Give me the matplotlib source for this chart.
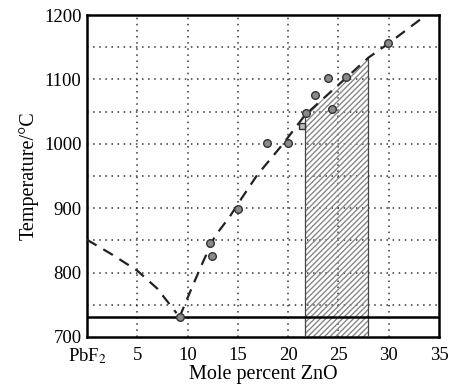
"""PbF2-ZnO phase diagram: liquidus with measured points and hatched region."""

import matplotlib.pyplot as plt
import numpy as np

plt.rcParams["font.family"] = ["Liberation Serif", "DejaVu Serif"]
plt.rcParams["mathtext.fontset"] = "stix"

# liquidus (dashed), PbF2-rich branch
left_x = [0.0, 2.5, 5.0, 7.0, 8.9]
left_t = [851, 828, 803, 775, 737]

# liquidus (dashed), ZnO-rich branch
right_x = [9.2, 10.6, 11.6, 12.7, 14.2, 15.4, 16.9, 19.5, 21.7, 23.2, 28.0, 30.0, 33.3]
right_t = [731, 783, 819, 856, 887, 916, 951, 1000, 1045, 1066, 1134, 1156, 1195]

# measured points
pts_x = [9.2, 12.2, 12.4, 15.0, 17.9, 20.0, 21.8, 22.7, 24.0, 24.4, 25.8, 29.9]
pts_t = [731, 846, 826, 898, 1002, 1001, 1048, 1076, 1102, 1054, 1103, 1156]
sq_x = [21.4]
sq_t = [1027]

eutectic_t = 731
hatch_lo, hatch_hi = 21.7, 27.95

xticks = [0, 5, 10, 15, 20, 25, 30, 35]
xticklabels = ["PbF$_2$", "5", "10", "15", "20", "25", "30", "35"]
yticks = [700, 800, 900, 1000, 1100, 1200]


def main():
    fig = plt.figure(figsize=(4.49, 3.85), dpi=100)
    ax = fig.add_axes([0.1938, 0.1247, 0.7839, 0.8363])

    dot = (0, (1, 3))
    for gx in range(5, 35, 5):
        ax.axvline(gx, color="#333333", lw=1.1, ls=dot, zorder=1)
    for gy in range(750, 1200, 50):
        ax.axhline(gy, color="#333333", lw=1.1, ls=dot, zorder=1)

    hx = np.linspace(hatch_lo, hatch_hi, 50)
    htop = np.interp(hx, right_x, right_t)
    ax.fill_between(hx, 700, htop, facecolor="none", edgecolor="#888888",
                    hatch="//////", lw=0, zorder=2)
    ax.vlines([hatch_lo, hatch_hi], 700, np.interp([hatch_lo, hatch_hi], right_x, right_t),
              color="#444444", lw=0.9, zorder=3)

    ax.axhline(eutectic_t, color="black", lw=1.8, zorder=3)

    ax.plot(left_x, left_t, color="#222222", lw=1.6, ls=(0, (5, 3.5)), zorder=4)
    ax.plot(right_x, right_t, color="#222222", lw=1.6, ls=(0, (5, 3.5)), zorder=4)

    ax.plot(pts_x, pts_t, "o", ms=5.5, mfc="#8a8a8a", mec="#333333", mew=1.0, zorder=5)
    ax.plot(sq_x, sq_t, "s", ms=5, mfc="#bbbbbb", mec="#333333", mew=1.0, zorder=5)

    ax.set_xlim(0, 35)
    ax.set_ylim(700, 1200)
    ax.set_xticks(xticks)
    ax.set_xticklabels(xticklabels)
    ax.set_yticks(yticks)
    ax.tick_params(length=0, labelsize=13.5)
    ax.tick_params(axis="x", pad=7)
    ax.tick_params(axis="y", pad=4)
    for s in ax.spines.values():
        s.set_linewidth(1.8)

    ax.set_xlabel("Mole percent ZnO", fontsize=14.5, labelpad=-1)
    ax.set_ylabel("Temperature/\u00b0C", fontsize=14.5, labelpad=4)

    fig.savefig("out.png", dpi=100)


if __name__ == "__main__":
    main()
